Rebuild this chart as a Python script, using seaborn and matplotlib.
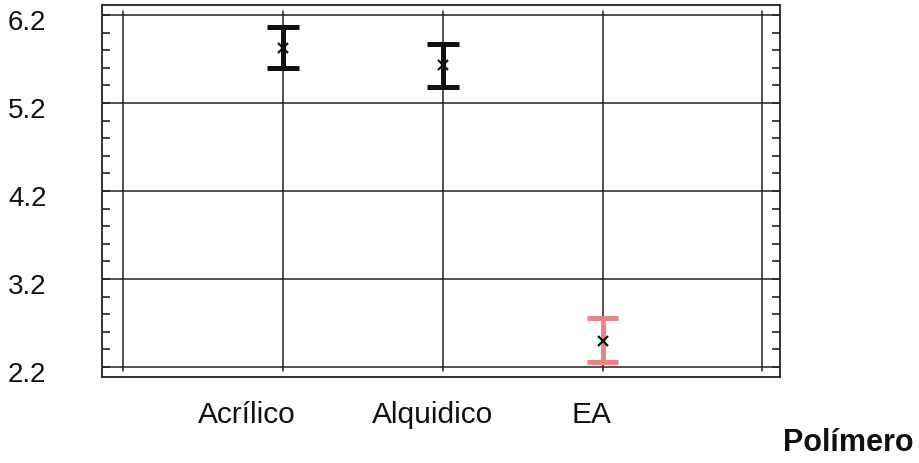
import numpy as np
import pandas as pd
import seaborn as sns
import matplotlib
matplotlib.use("Agg")
import matplotlib.pyplot as plt
from matplotlib.ticker import MultipleLocator
from matplotlib.transforms import ScaledTranslation

# ---- data ----
categories = ["Acrílico", "Alquidico", "EA"]
lower = [5.60, 5.38, 2.26]
center = [5.83, 5.63, 2.50]
upper = [6.06, 5.87, 2.76]
colors = ["#111111", "#111111", "#e8848a"]
y_ticks = [2.2, 3.2, 4.2, 5.2, 6.2]
x_label = "Polímero"

rows = []
for c, lo, mid, hi in zip(categories, lower, center, upper):
    for v in (lo, mid, hi):
        rows.append({"cat": c, "val": v})
df = pd.DataFrame(rows)

sns.set_style("white")
plt.rcParams["font.family"] = ["Liberation Sans", "DejaVu Sans"]
plt.rcParams["text.color"] = "#111111"
plt.rcParams["xtick.color"] = "#111111"
plt.rcParams["ytick.color"] = "#111111"

fig = plt.figure(figsize=(9.19, 4.63), dpi=100)
ax = fig.add_axes([102 / 919, 1 - 377 / 463, (780 - 102) / 919, (377 - 5) / 463])

sns.pointplot(
    data=df, x="cat", y="val", hue="cat", order=categories, hue_order=categories,
    palette=colors, estimator="median",
    errorbar=lambda v: (v.min(), v.max()),
    capsize=0.2, err_kws={"linewidth": 3.6, "solid_capstyle": "butt"},
    markers="x", markersize=7, linestyles="none", legend=False, ax=ax,
)

# marker strokes in black
for ln in ax.lines:
    if ln.get_marker() not in (None, "None", "", " "):
        ln.set_markeredgecolor("#111111")
        ln.set_markerfacecolor("#111111")
        ln.set_markeredgewidth(1.6)
        ln.set_zorder(6)

ylo, yhi = 2.086, 6.314
ax.set_ylim(ylo, yhi)
ax.set_xlim(-1.13, 3.11)

# grid: horizontal full width, vertical between 2.2 and 6.2
for y in y_ticks:
    ax.axhline(y, color="#222222", lw=1.1, zorder=0)
fmin = (y_ticks[0] - ylo) / (yhi - ylo)
fmax = (y_ticks[-1] - ylo) / (yhi - ylo)
for x in [-1, 0, 1, 2, 3]:
    ax.axvline(x, ymin=fmin - 0.01, ymax=fmax + 0.01, color="#222222", lw=1.1, zorder=0)

ax.set_yticks(y_ticks)
ax.set_yticklabels([f"{t:.1f}" for t in y_ticks])
ax.yaxis.set_minor_locator(MultipleLocator(0.2))
ax.set_xticks([0, 1, 2])
ax.set_xticklabels(categories)

ax.tick_params(axis="y", which="both", direction="in", left=True, right=True,
               length=6, width=1.2, color="#222222", labelsize=20, pad=40)
ax.tick_params(axis="x", which="both", bottom=False, labelsize=21.5, pad=14)

# small positional tweaks of labels (as in reference)
for lab, dx in zip(ax.get_xticklabels(), [-36, -10, -11]):
    lab.set_transform(lab.get_transform() + ScaledTranslation(dx / 100, 0, fig.dpi_scale_trans))
for lab in ax.get_yticklabels():
    lab.set_transform(lab.get_transform() + ScaledTranslation(0, -5 / 100, fig.dpi_scale_trans))

ax.set_xlabel("")
ax.set_ylabel("")
for s in ax.spines.values():
    s.set_visible(True)
    s.set_color("#222222")
    s.set_linewidth(1.3)

fig.text(848 / 919, 1 - 443 / 463, x_label, fontsize=22, fontweight="bold",
         ha="center", va="center")

fig.savefig("out.png", dpi=100, facecolor="white")
